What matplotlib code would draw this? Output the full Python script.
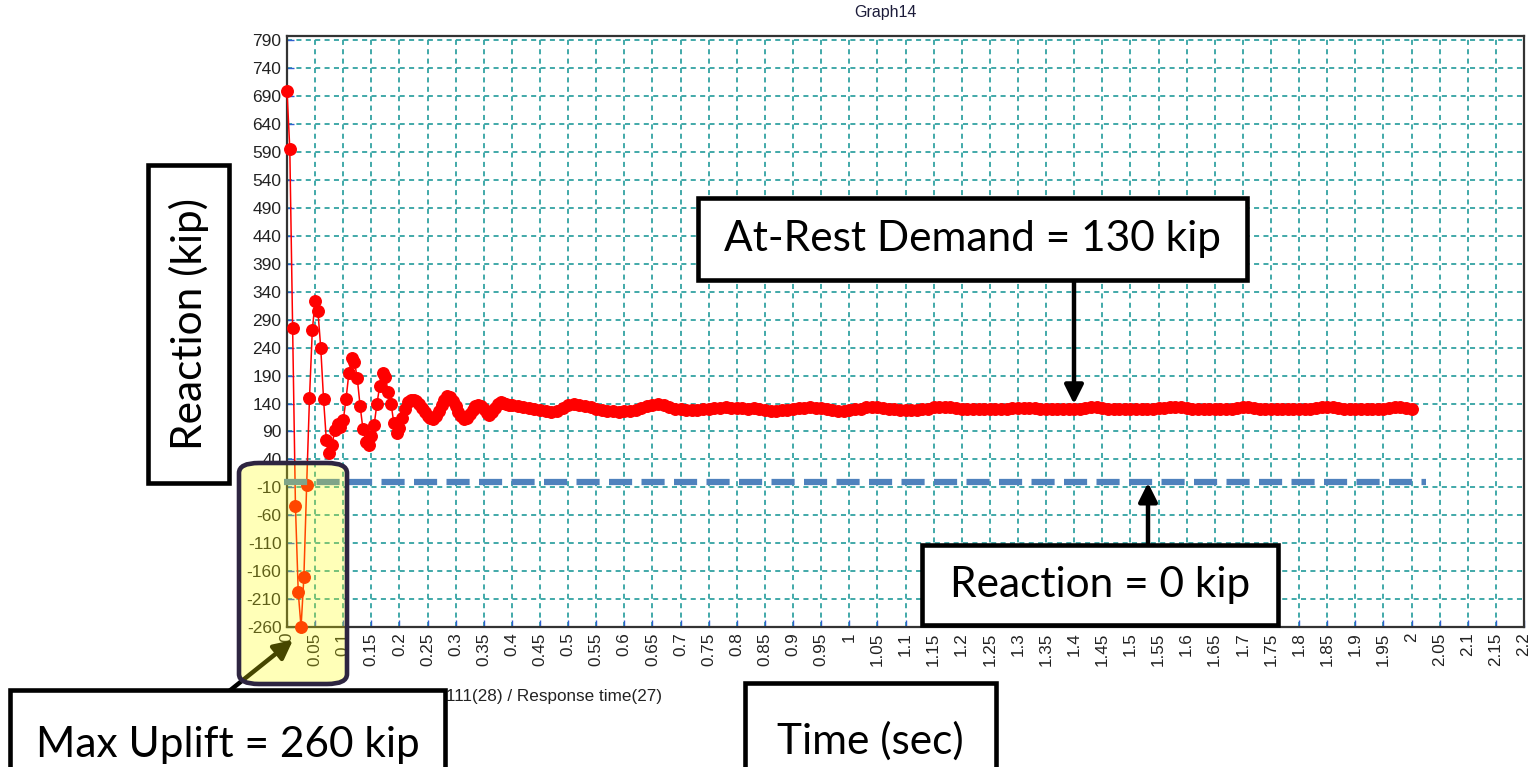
import numpy as np
import matplotlib
matplotlib.use("Agg")
import matplotlib.pyplot as plt
from matplotlib.patches import Rectangle, FancyBboxPatch, FancyArrowPatch

# ---- data -------------------------------------------------------------
# support reaction sampled every 0.005 s during the initial transient
time_early = np.round(np.arange(0.0, 0.4001, 0.005), 3)
reaction_early = [
    700, 595, 275, -43, -198, -260, -171, -5, 150, 271,
    324, 305, 240, 148, 74, 51, 66, 92, 104, 98,
    110, 148, 194, 222, 215, 185, 136, 95, 72, 66,
    82, 102, 140, 172, 195, 188, 160, 140, 105, 88,
    97, 115, 130, 142, 146, 147, 145, 140, 132, 124,
    117, 114, 113, 117, 126, 137, 147, 153, 152, 145,
    135, 125, 117, 113, 115, 121, 129, 135, 138, 136,
    130, 123, 120, 124, 132, 139, 142, 141, 139, 138,
    137,
]
# settled response, every 0.01 s
time_late = np.round(np.arange(0.41, 2.0001, 0.01), 3)
reaction_late = [
    136, 134, 132, 130, 128, 126, 125, 127, 132, 137,
    139, 138, 135, 133, 131, 129, 127, 126, 125, 126,
    127, 129, 132, 135, 138, 139, 137, 134, 131, 130,
    129, 129, 129, 130, 131, 132, 132, 133, 132, 132,
    132, 131, 132, 131, 129, 127, 127, 128, 129, 131,
    132, 132, 133, 132, 132, 131, 129, 127, 127, 128,
    130, 131, 133, 133, 133, 132, 131, 130, 129, 128,
    128, 129, 130, 131, 133, 133, 133, 133, 132, 131,
    130, 130, 130, 130, 131, 130, 130, 131, 132, 132,
    132, 132, 132, 131, 131, 130, 130, 130, 131, 131,
    131, 132, 133, 133, 132, 131, 131, 130, 130, 131,
    131, 131, 131, 131, 132, 132, 133, 133, 133, 132,
    131, 131, 130, 130, 130, 131, 131, 131, 132, 133,
    133, 132, 131, 130, 130, 130, 130, 130, 131, 131,
    131, 131, 132, 133, 133, 133, 132, 131, 131, 130,
    130, 130, 130, 130, 131, 132, 133, 133, 132, 131,
]
time = np.concatenate([time_early, time_late])
reaction = np.concatenate([reaction_early, reaction_late])

zero_reaction = 0          # kip, reference line
at_rest_demand = 130       # kip
max_uplift = 260           # kip

x_ticks = np.round(np.arange(0.0, 2.2001, 0.05), 2)
x_tick_labels = [f"{v:g}" for v in x_ticks]
y_ticks = np.arange(-260, 791, 50)
y_tick_labels = [str(v) for v in y_ticks]

title_text = "Graph14"
axis_caption = "111(28) / Response time(27)"
label_demand = f"At-Rest Demand = {at_rest_demand} kip"
label_zero = f"Reaction = {zero_reaction} kip"
label_uplift = f"Max Uplift = {max_uplift} kip"
label_time = "Time (sec)"
label_reaction = "Reaction (kip)"

# ---- figure -------------------------------------------------------------
W, H = 1532, 767
fig = plt.figure(figsize=(W / 100, H / 100), dpi=100)
fig.patch.set_facecolor("white")

def fx(x):
    return x / W

def fy(y):
    return 1 - y / H

ax_l, ax_r, ax_t, ax_b = 287, 1524, 36, 627
ax = fig.add_axes([fx(ax_l), fy(ax_b), (ax_r - ax_l) / W, (ax_b - ax_t) / H])
ax.set_xlim(0, 2.2)
ax.set_ylim(-260, 798)

ax.set_xticks(x_ticks)
ax.set_xticklabels(x_tick_labels, rotation=90, fontsize=12.3,
                   family="Liberation Sans", color="#222222")
ax.set_yticks(y_ticks)
ax.set_yticklabels(y_tick_labels, fontsize=12.5,
                   family="Liberation Sans", color="#222222")
ax.tick_params(direction="in", length=5, width=1, color="#2f5fd0", pad=4)

ax.grid(True, color="#33a3a3", linewidth=1.3, linestyle=(0, (2.8, 2.4)))
ax.set_axisbelow(True)
for side, sp in ax.spines.items():
    sp.set_color("#333333")
    sp.set_linewidth(1.6)

ax.plot(time, reaction, color="#ff0000", linewidth=1.1, marker="o",
        markersize=8.3, markeredgecolor="#ff0000", markerfacecolor="#ff0000",
        clip_on=False, zorder=3)

# zero reaction reference line
ax.plot([-0.006, 2.025], [zero_reaction, zero_reaction], color="#4f81bd",
        linewidth=4.5, linestyle=(0, (3.7, 1.5)), clip_on=False, zorder=4)

fig.text(fx(885), fy(13), title_text, ha="center", va="center",
         fontsize=11.5, family="Liberation Sans", color="#1c1c3a")
fig.text(fx(446), fy(697), axis_caption, ha="left", va="center",
         fontsize=12.3, family="Liberation Sans", color="#222222")

# ---- callouts -------------------------------------------------------------
def box(x0, y0, x1, y1, text, size, rotation=0, z=10):
    r = Rectangle((fx(x0), fy(y1)), (x1 - x0) / W, (y1 - y0) / H,
                  transform=fig.transFigure, facecolor="white",
                  edgecolor="black", linewidth=3.3, zorder=z, clip_on=False)
    fig.add_artist(r)
    fig.text(fx((x0 + x1) / 2), fy((y0 + y1) / 2), text, ha="center",
             va="center", fontsize=size, family="Lato", color="black",
             rotation=rotation, zorder=z + 1)

def arrow(x0, y0, x1, y1, z=9, color="black"):
    a = FancyArrowPatch((fx(x0), fy(y0)), (fx(x1), fy(y1)),
                        transform=fig.transFigure, arrowstyle="-|>",
                        mutation_scale=28, linewidth=3.2, color=color,
                        shrinkA=0, shrinkB=0, zorder=z)
    fig.add_artist(a)

arrow(1074, 280, 1074, 404)
box(698, 198, 1247, 280, label_demand, 30.5)

# arrow tip sits on the zero reaction line
zero_px = H - ax.transData.transform((1.535, zero_reaction))[1]
arrow(1148, 546, 1148, zero_px + 1)
box(922, 545, 1278, 625, label_zero, 30.5)

box(745, 683, 996, 800, label_time, 30.5)
box(148, 165, 229, 483, label_reaction, 30.5, rotation=90)

# arrow to the uplift region, then the translucent highlight on top of it
arrow(228, 692, 293, 640, z=5)
hl_fill = FancyBboxPatch((fx(239), fy(684)), (347 - 239) / W, (684 - 463) / H,
                         boxstyle="round,pad=0.0,rounding_size=0.013",
                         transform=fig.transFigure, facecolor=(1, 1, 0, 0.28),
                         edgecolor="none", zorder=6)
fig.add_artist(hl_fill)
hl_edge = FancyBboxPatch((fx(239), fy(684)), (347 - 239) / W, (684 - 463) / H,
                         boxstyle="round,pad=0.0,rounding_size=0.013",
                         transform=fig.transFigure, facecolor="none",
                         edgecolor="#2e2541", linewidth=3.3, zorder=7)
fig.add_artist(hl_edge)

box(10, 690, 445, 800, label_uplift, 30.5)

fig.savefig("out.png", dpi=100)
